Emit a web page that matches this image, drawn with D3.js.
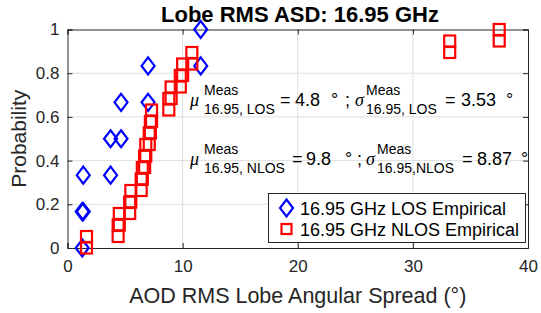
<!DOCTYPE html>
<html>
<head>
<meta charset="utf-8">
<script src="https://cdn.jsdelivr.net/npm/d3@7"></script>
<style>
  body { margin: 0; background: #fff; }
  svg text { font-family: "Liberation Sans", Arial, Helvetica, sans-serif; }
</style>
</head>
<body>
<div id="chart"></div>
<script>
// sorted lobe spreads (deg), plotted as empirical CDF steps
const losValues = [1.28, 1.37, 3.74, 4.65, 7.0, 11.57];
const nlosValues = [1.65, 4.4, 4.5, 5.4, 5.5, 6.4, 6.5, 6.7, 6.8, 7.1, 7.2, 7.3,
                    8.8, 9.0, 9.8, 10.0, 10.8, 33.2, 37.5];
const xTicks = [0, 10, 20, 30, 40];
const yTicks = [0, 0.2, 0.4, 0.6, 0.8, 1];
const yTickLabels = ['0', '0.2', '0.4', '0.6', '0.8', '1'];
const legendLabels = ['16.95 GHz LOS Empirical', '16.95 GHz NLOS Empirical'];

const W = 541, H = 313;
const MARGIN = {left: 67.5, right: 13, top: 29.5, bottom: 65};
const AXIS = '#262626';

const svg = d3.select('#chart').append('svg')
    .attr('width', W).attr('height', H);

const x = d3.scaleLinear().domain([0, 40]).range([MARGIN.left, W - MARGIN.right]);
const y = d3.scaleLinear().domain([0, 1]).range([H - MARGIN.bottom, MARGIN.top]);

// every sample gives two points: bottom and top of its step
function steps(vals) {
    const n = vals.length, pts = [];
    vals.forEach((v, i) => {
        pts.push({v: v, p: i / n});
        pts.push({v: v, p: (i + 1) / n});
    });
    return pts;
}

// grid
const grid = svg.append('g');
xTicks.slice(1, -1).forEach(t => {
    grid.append('line').attr('x1', x(t)).attr('x2', x(t))
        .attr('y1', y(0)).attr('y2', y(1))
        .attr('stroke', '#dfdfdf').attr('stroke-width', 1);
});
yTicks.slice(1, -1).forEach(t => {
    grid.append('line').attr('x1', x(0)).attr('x2', x(40))
        .attr('y1', y(t)).attr('y2', y(t))
        .attr('stroke', '#dfdfdf').attr('stroke-width', 1);
});

// axes (ticks inside, box on)
const tick = 5;
const xAxis = svg.append('g').attr('transform', `translate(0,${y(0)})`)
    .call(d3.axisBottom(x).tickValues(xTicks).tickSize(-tick).tickPadding(12));
const xTop = svg.append('g').attr('transform', `translate(0,${y(1)})`)
    .call(d3.axisTop(x).tickValues(xTicks).tickSize(-tick).tickFormat(''));
const yAxis = svg.append('g').attr('transform', `translate(${x(0)},0)`)
    .call(d3.axisLeft(y).tickValues(yTicks).tickSize(-tick).tickPadding(8)
        .tickFormat((d, i) => yTickLabels[i]));
const yRight = svg.append('g').attr('transform', `translate(${x(40)},0)`)
    .call(d3.axisRight(y).tickValues(yTicks).tickSize(-tick).tickFormat(''));

[xAxis, xTop, yAxis, yRight].forEach(a => {
    a.selectAll('path').attr('stroke', AXIS).attr('stroke-width', 1);
    a.selectAll('line').attr('stroke', AXIS).attr('stroke-width', 1);
    a.selectAll('text').attr('fill', AXIS).style('font-size', '17px');
});

// markers
const diamond = 'M0,-8.5L6.5,0L0,8.5L-6.5,0Z';
svg.append('g').selectAll('path').data(steps(losValues)).join('path')
    .attr('d', diamond)
    .attr('transform', d => `translate(${x(d.v)},${y(d.p)})`)
    .attr('fill', 'none').attr('stroke', '#0000ff').attr('stroke-width', 2.2);

const sq = 11;
svg.append('g').selectAll('rect').data(steps(nlosValues)).join('rect')
    .attr('x', d => x(d.v) - sq / 2).attr('y', d => y(d.p) - sq / 2)
    .attr('width', sq).attr('height', sq)
    .attr('fill', 'none').attr('stroke', '#ff0000').attr('stroke-width', 2.2);

// title and labels
svg.append('text').attr('x', 300).attr('y', 22)
    .attr('text-anchor', 'middle').style('font-size', '22px').style('font-weight', 'bold')
    .attr('fill', '#000').text('Lobe RMS ASD: 16.95 GHz');

svg.append('text').attr('x', (x(0) + x(40)) / 2).attr('y', 303)
    .attr('text-anchor', 'middle').style('font-size', '21.5px').attr('fill', AXIS)
    .text('AOD RMS Lobe Angular Spread (°)');

svg.append('text').attr('transform', `translate(26,${(y(0) + y(1)) / 2}) rotate(-90)`)
    .attr('text-anchor', 'middle').style('font-size', '21px').attr('fill', AXIS)
    .text('Probability');

// statistics annotations
function stat(base, parts) {
    const t = svg.append('text').attr('y', base).attr('fill', '#000').style('font-size', '18px');
    parts.forEach(p => {
        const s = t.append('tspan').attr('x', p.x).attr('y', base + (p.dy || 0)).text(p.t);
        if (p.size) s.style('font-size', p.size + 'px');
        if (p.italic) s.style('font-style', 'italic').style('font-family', '"Liberation Serif", serif');
    });
}
stat(106, [
    {x: 190, t: 'μ', italic: true},
    {x: 204, t: 'Meas', dy: -11, size: 14},
    {x: 204, t: '16.95, LOS', dy: 8, size: 14},
    {x: 280, t: '='},
    {x: 295, t: '4.8'},
    {x: 331, t: '°'},
    {x: 345, t: ';'},
    {x: 355, t: 'σ', italic: true},
    {x: 366, t: 'Meas', dy: -11, size: 14},
    {x: 366, t: '16.95, LOS', dy: 8, size: 14},
    {x: 445, t: '='},
    {x: 461, t: '3.53'},
    {x: 506, t: '°'}
]);
stat(165, [
    {x: 190, t: 'μ', italic: true},
    {x: 204, t: 'Meas', dy: -11, size: 14},
    {x: 204, t: '16.95, NLOS', dy: 8, size: 14},
    {x: 292, t: '='},
    {x: 306, t: '9.8'},
    {x: 345, t: '°'},
    {x: 357, t: ';'},
    {x: 366, t: 'σ', italic: true},
    {x: 377, t: 'Meas', dy: -11, size: 14},
    {x: 377, t: '16.95,NLOS', dy: 8, size: 14},
    {x: 462, t: '='},
    {x: 477, t: '8.87'},
    {x: 521, t: '°'}
]);

// legend
const lg = svg.append('g');
lg.append('rect').attr('x', 268.5).attr('y', 193.5).attr('width', 257).attr('height', 49)
    .attr('fill', '#fff').attr('stroke', AXIS).attr('stroke-width', 1);
lg.append('path').attr('d', diamond)
    .attr('transform', 'translate(286.5,208)')
    .attr('fill', 'none').attr('stroke', '#0000ff').attr('stroke-width', 2.2);
lg.append('rect').attr('x', 286.5 - 5).attr('y', 229 - 5).attr('width', 10).attr('height', 10)
    .attr('fill', 'none').attr('stroke', '#ff0000').attr('stroke-width', 2.2);
legendLabels.forEach((l, i) => {
    lg.append('text').attr('x', 300).attr('y', 214.5 + i * 21.5)
        .style('font-size', '18px').attr('fill', '#000').text(l);
});
</script>
</body>
</html>
